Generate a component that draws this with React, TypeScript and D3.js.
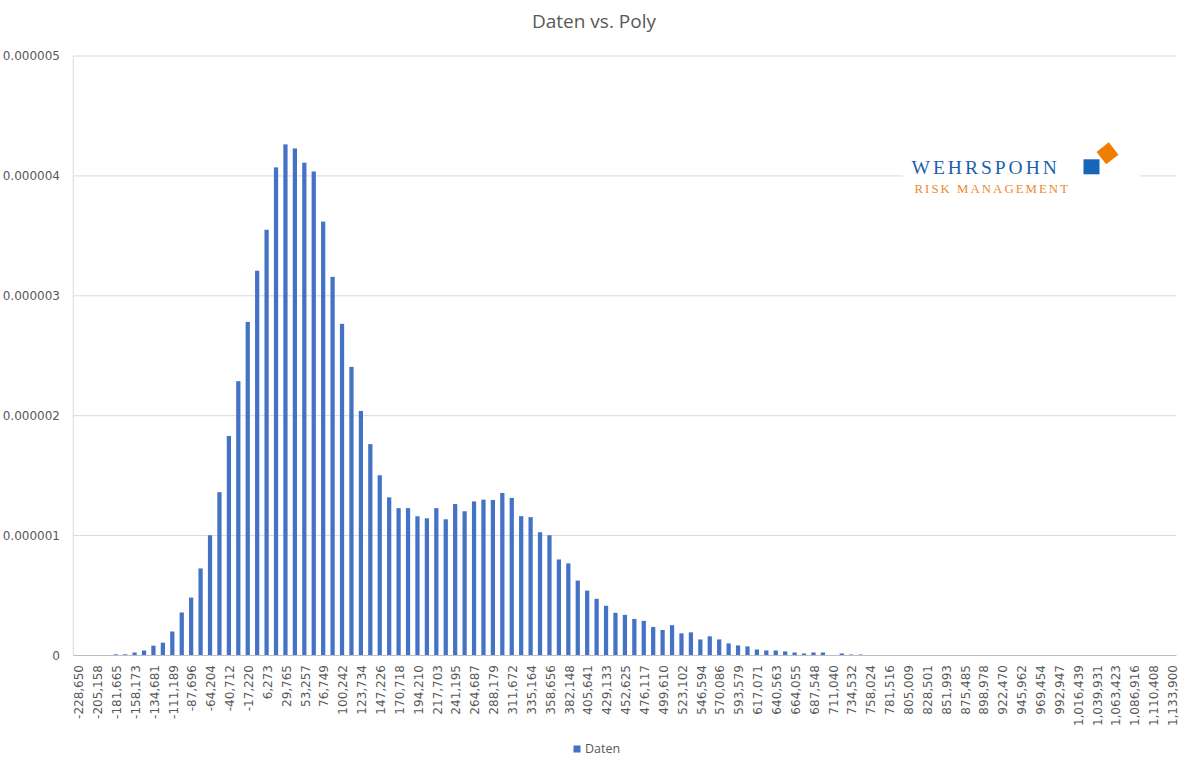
import React from "react";
import * as d3 from "d3";

const WIDTH = 1191;
const HEIGHT = 768;

const TITLE = "Daten vs. Poly";
const SERIES_NAME = "Daten";

// density values (×1e-6) for each of the 117 histogram bins
const densityMicro: number[] = [
  0, 0, 0, 0, 0.01, 0.01, 0.025, 0.042, 0.082, 0.107,
  0.2, 0.359, 0.483, 0.726, 1.003, 1.362, 1.831, 2.288, 2.782, 3.209,
  3.551, 4.071, 4.263, 4.229, 4.11, 4.037, 3.619, 3.158, 2.766, 2.407,
  2.04, 1.763, 1.503, 1.319, 1.229, 1.229, 1.161, 1.144, 1.229, 1.136,
  1.263, 1.203, 1.285, 1.3, 1.297, 1.356, 1.314, 1.162, 1.154, 1.028,
  1.003, 0.801, 0.768, 0.625, 0.541, 0.473, 0.415, 0.356, 0.339, 0.305,
  0.289, 0.238, 0.213, 0.253, 0.185, 0.193, 0.134, 0.16, 0.134, 0.101,
  0.084, 0.076, 0.05, 0.042, 0.042, 0.034, 0.025, 0.017, 0.025, 0.025,
  0, 0.017, 0.008, 0.008, 0, 0, 0, 0, 0, 0,
  0, 0, 0, 0, 0, 0, 0, 0, 0, 0,
  0, 0, 0, 0, 0, 0, 0, 0, 0, 0,
  0, 0, 0, 0, 0, 0, 0,
];

// labels shown on every second bin
const xTickLabels: string[] = [
  "-228,650", "-205,158", "-181,665", "-158,173", "-134,681", "-111,189",
  "-87,696", "-64,204", "-40,712", "-17,220", "6,273", "29,765", "53,257",
  "76,749", "100,242", "123,734", "147,226", "170,718", "194,210", "217,703",
  "241,195", "264,687", "288,179", "311,672", "335,164", "358,656", "382,148",
  "405,641", "429,133", "452,625", "476,117", "499,610", "523,102", "546,594",
  "570,086", "593,579", "617,071", "640,563", "664,055", "687,548", "711,040",
  "734,532", "758,024", "781,516", "805,009", "828,501", "851,993", "875,485",
  "898,978", "922,470", "945,962", "969,454", "992,947", "1,016,439",
  "1,039,931", "1,063,423", "1,086,916", "1,110,408", "1,133,900",
];

const yTicks: number[] = [0, 0.000001, 0.000002, 0.000003, 0.000004, 0.000005];
const yTickLabels: string[] = ["0", "0.000001", "0.000002", "0.000003", "0.000004", "0.000005"];

const BAR = "#4472c4";
const TEXT = "#595959";
const GRID = "#d9d9d9";
const AXIS = "#bfbfbf";
const FONT = "'DejaVu Sans', Verdana, sans-serif";
const TFONT = "'Open Sans', 'Noto Sans', sans-serif";

export default function App() {
  const left = 73.3;
  const right = 1176.5;
  const top = 56;
  const bottom = 655.5;

  const idx = d3.range(densityMicro.length);
  const x = d3.scaleBand<number>().domain(idx).range([left, right]).paddingInner(0.55).paddingOuter(0.275);
  const xc = d3.scaleBand<number>().domain(idx).range([left, right]);
  const y = d3.scaleLinear().domain([0, 0.000005]).range([bottom, top]);

  return (
    <svg
      width={WIDTH}
      height={HEIGHT}
      style={{ position: "absolute", left: 0, top: 0, background: "#fff" }}
    >
      <rect x={0} y={0} width={WIDTH} height={HEIGHT} fill="#fff" />
      <text x={594} y={28} textAnchor="middle" fontFamily={TFONT} fontSize={19} fill={TEXT}>
        {TITLE}
      </text>

      {/* gridlines */}
      {yTicks.slice(1).map((t) => (
        <line key={t} x1={left} x2={right} y1={y(t)} y2={y(t)} stroke={GRID} strokeWidth={1} />
      ))}
      <line x1={left} x2={left} y1={top} y2={bottom} stroke={GRID} strokeWidth={1} />

      {/* y labels */}
      {yTicks.map((t, i) => (
        <text key={t} x={60} y={y(t)} dy="0.35em" textAnchor="end" fontFamily={FONT} fontSize={12} fill={TEXT}>
          {yTickLabels[i]}
        </text>
      ))}

      {/* bars */}
      {densityMicro.map((v, i) =>
        v > 0 ? (
          <rect
            key={i}
            x={x(i)!}
            y={y(v * 1e-6)}
            width={x.bandwidth()}
            height={bottom - y(v * 1e-6)}
            fill={BAR}
          />
        ) : null
      )}

      <line x1={left} x2={right} y1={bottom} y2={bottom} stroke={AXIS} strokeWidth={1} />

      {/* x labels */}
      {xTickLabels.map((lab, k) => {
        const cx = xc(k * 2)! + xc.bandwidth() / 2;
        return (
          <text
            key={lab}
            transform={`translate(${cx + 1},665) rotate(-90)`}
            dy="0.35em"
            textAnchor="end"
            fontFamily={FONT}
            fontSize={12}
            fill={TEXT}
          >
            {lab}
          </text>
        );
      })}

      {/* legend */}
      <rect x={573.5} y={745.5} width={7} height={7} fill={BAR} />
      <text x={585} y={749} dy="0.35em" fontFamily={TFONT} fontSize={12.5} fill={TEXT}>
        {SERIES_NAME}
      </text>

      {/* logo */}
      <g>
        <rect x={903} y={140} width={237} height={62} fill="#fff" />
        <text
          x={911.5}
          y={173.5}
          fontFamily="'Liberation Serif', 'DejaVu Serif', serif"
          fontSize={19.5}
          letterSpacing={3}
          fill="#1c5faa"
        >
          WEHRSPOHN
        </text>
        <text
          x={914.5}
          y={193.3}
          fontFamily="'Liberation Serif', 'DejaVu Serif', serif"
          fontSize={12.8}
          letterSpacing={2.05}
          fill="#ec8a2a"
        >
          RISK MANAGEMENT
        </text>
        <rect x={1083.5} y={159.3} width={16} height={15} fill="#1565b8" />
        <rect
          x={-7.8}
          y={-7.8}
          width={15.6}
          height={15.6}
          fill="#ef7d00"
          transform="translate(1107.5,153.3) rotate(-38)"
        />
      </g>
    </svg>
  );
}
